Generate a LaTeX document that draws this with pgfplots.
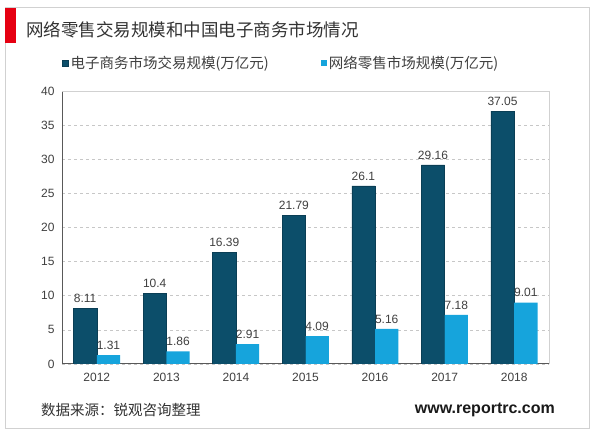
\documentclass[border=0pt]{standalone}
\usepackage{pgfplots}
\pgfplotsset{compat=1.18}
\usepackage{fontspec}
\setmainfont{Liberation Sans}
\newfontfamily\cjk{Noto Sans CJK SC}
\definecolor{darkbar}{HTML}{0C4E6A}
\definecolor{lightbar}{HTML}{16A4DC}
\definecolor{txt}{HTML}{404040}
\definecolor{ttl}{HTML}{333333}
\definecolor{redbar}{HTML}{E60012}
\begin{document}
\begin{tikzpicture}[x=1pt,y=1pt]
\fill[white] (0,0) rectangle (600,433);
\draw[black!18, line width=0.8pt] (5,5) rectangle (589,426);
\fill[redbar] (5,390) rectangle (16,425);
\node[anchor=west, inner sep=0pt, text=ttl, font=\cjk\fontsize{17.5}{20}\selectfont] at (26,403) {网络零售交易规模和中国电子商务市场情况};
\node[anchor=west, inner sep=0pt, text=ttl, font=\cjk\fontsize{14.5}{17}\selectfont] at (41,23) {数据来源：锐观咨询整理};
\node[anchor=east, inner sep=0pt, text=black!90, font=\bfseries\fontsize{16}{18}\selectfont] at (555,23) {www.reportrc.com};
\begin{axis}[
  at={(62pt,69pt)}, anchor=south west,
  width=487pt, height=273pt, scale only axis,
  xmin=-0.5, xmax=6.5, ymin=0, ymax=40,
  ybar=0pt, bar width=23.3pt,
  xtick=data, xticklabels={2012,2013,2014,2015,2016,2017,2018},
  ytick={0,5,...,40},
  major tick length=0pt,
  axis x line*=bottom, axis y line*=left,
  axis line style={draw=black!65, line width=1pt, -},
  ymajorgrids, grid style={dashed, draw=black!22, line width=0.6pt},
  /pgf/number format/assume math mode=true,
  ticklabel style={font=\fontsize{12}{14}\selectfont, text=txt},
  xticklabel style={yshift=-6pt},
  yticklabel style={xshift=-4pt},
  nodes near coords={\pgfmathprintnumber[assume math mode=true]{\pgfplotspointmeta}},
  every node near coord/.append style={font=\fontsize{12}{14}\selectfont, text=txt, yshift=2pt},
  legend columns=2,
  legend style={at={(rel axis cs:0,1.1026)}, anchor=west, draw=none, fill=none, inner sep=0pt,
    font=\cjk\fontsize{14.5}{17}\selectfont, text=txt,
    /tikz/every even column/.append style={column sep=50pt}},
  legend image code/.code={\fill[#1] (0pt,-3pt) rectangle (6pt,3pt);},
  after end axis/.code={\draw[black!18, line width=0.8pt] (rel axis cs:0,1) -- (rel axis cs:1,1) -- (rel axis cs:1,0);},
]
\addplot[fill=darkbar, draw=darkbar!80!black] coordinates {(0,8.11) (1,10.4) (2,16.39) (3,21.79) (4,26.1) (5,29.16) (6,37.05)};
\addplot[fill=lightbar, draw=none] coordinates {(0,1.31) (1,1.86) (2,2.91) (3,4.09) (4,5.16) (5,7.18) (6,9.01)};
\legend{电子商务市场交易规模(万亿元), 网络零售市场规模(万亿元)}
\end{axis}
\end{tikzpicture}
\end{document}
